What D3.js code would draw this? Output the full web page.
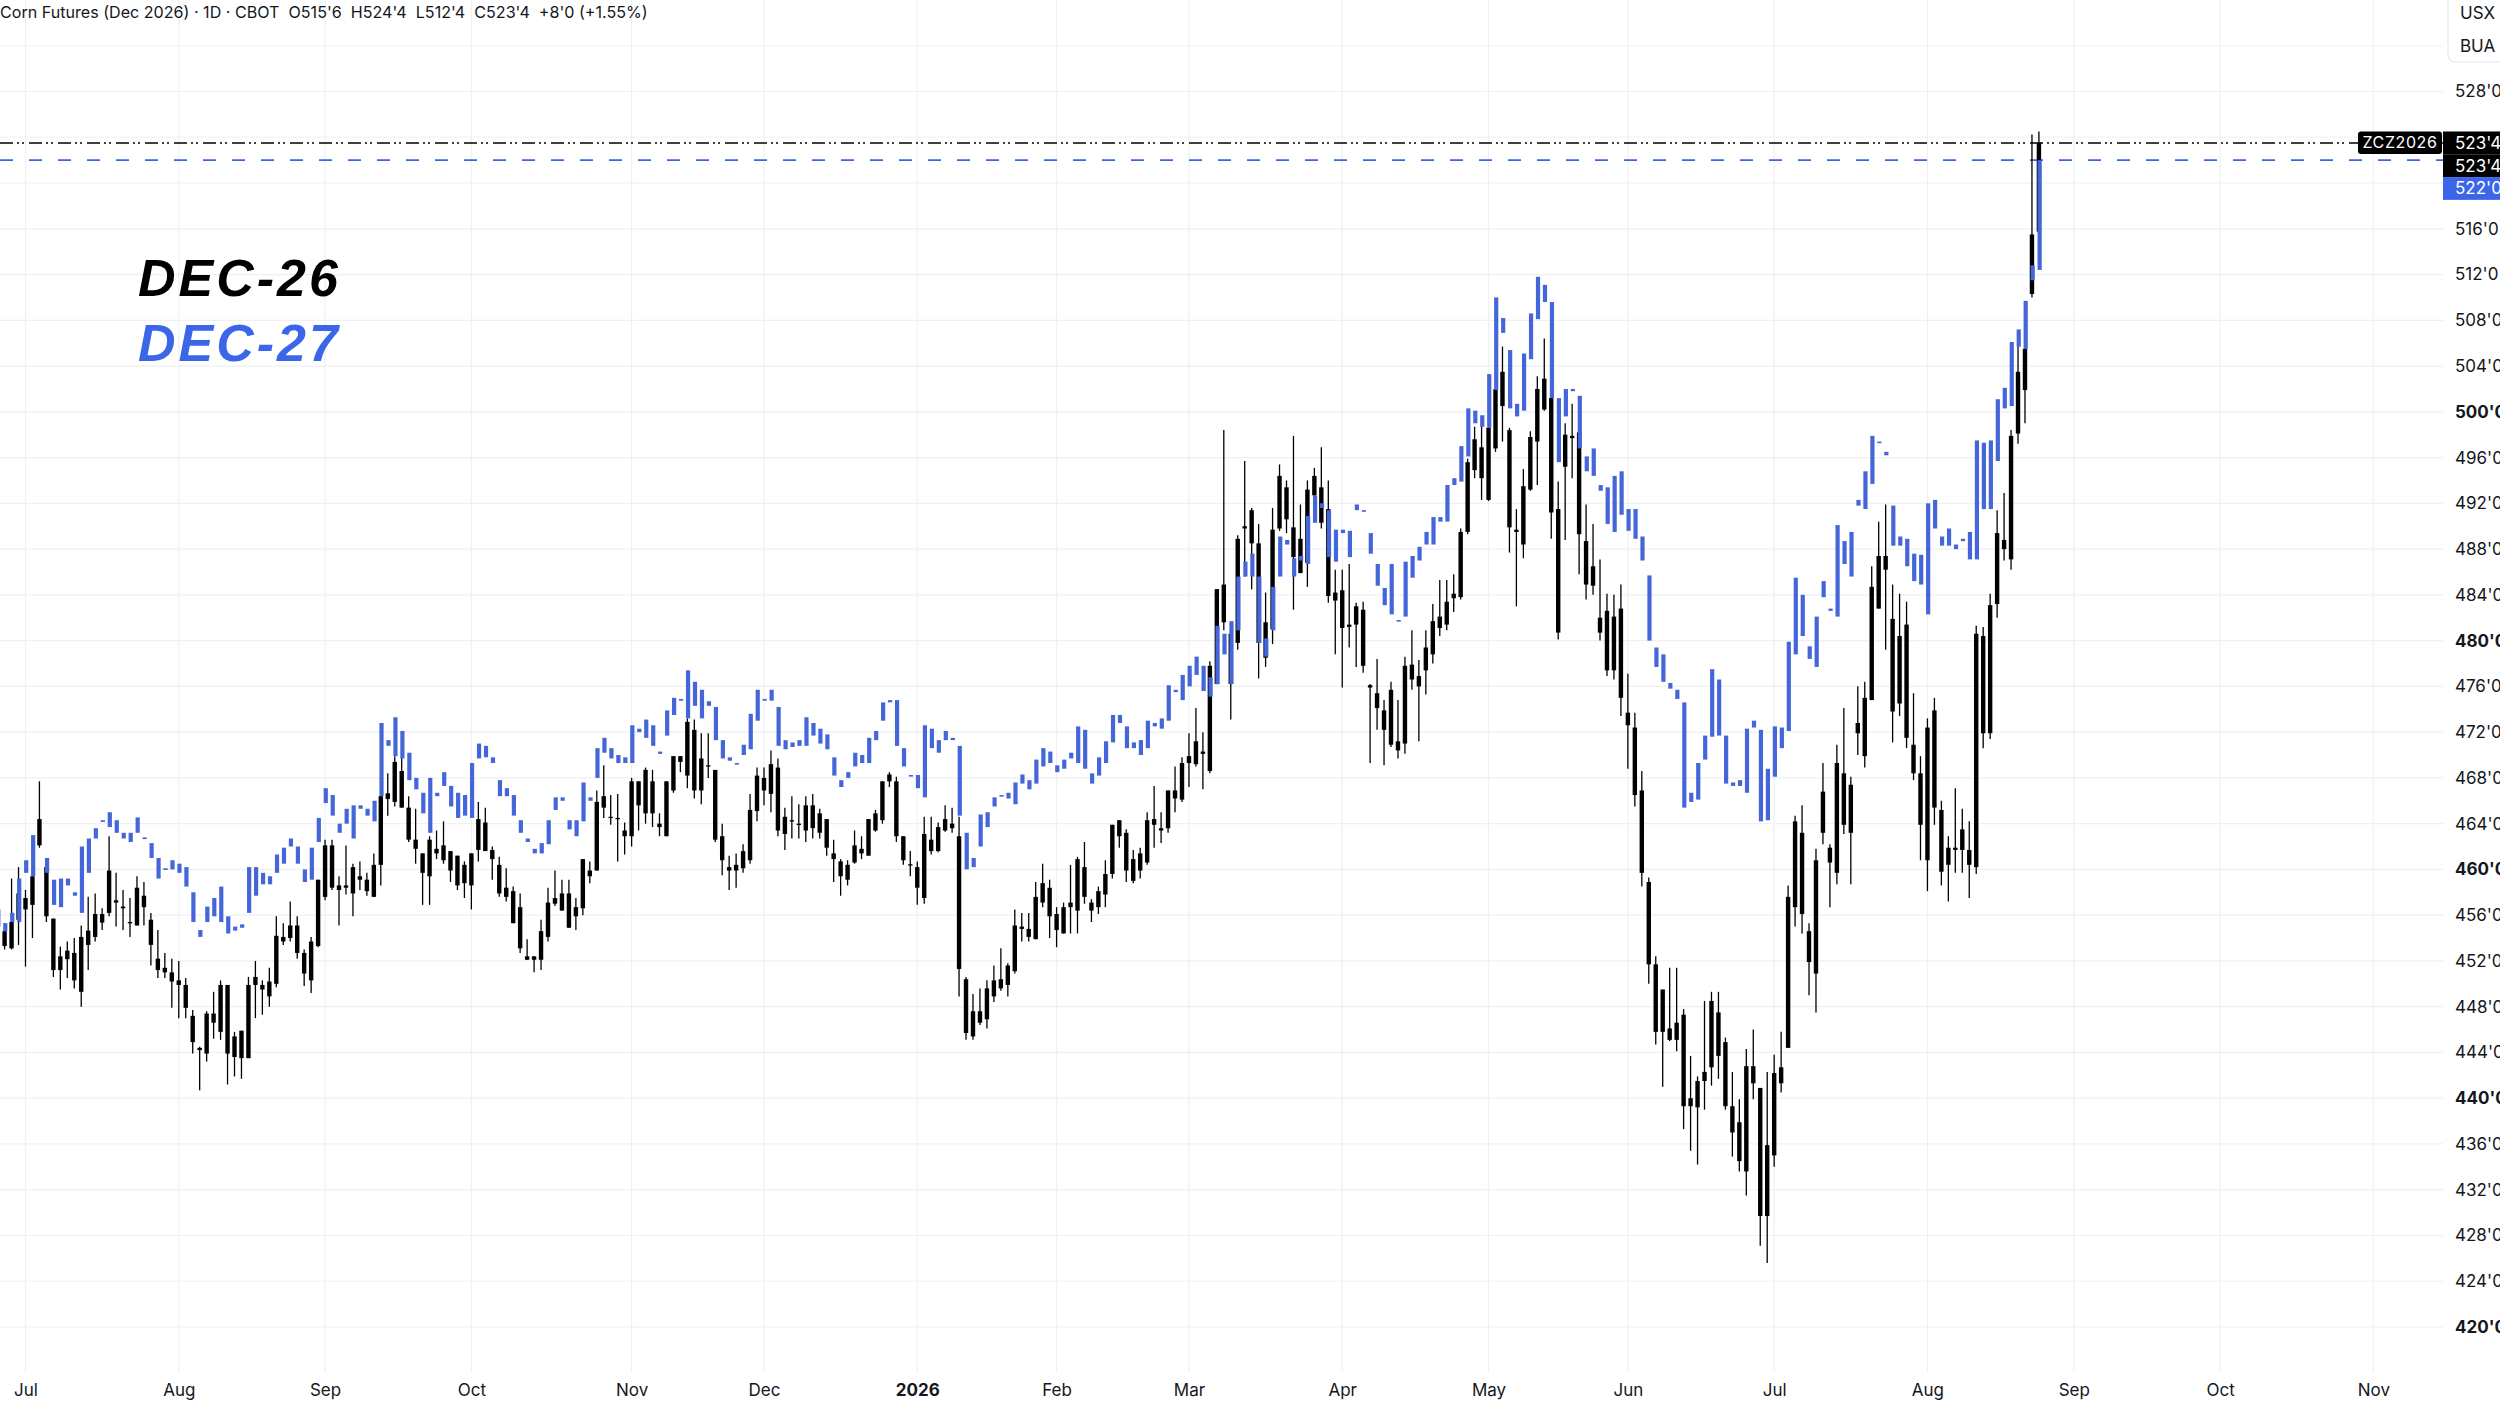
<!DOCTYPE html>
<html><head><meta charset="utf-8">
<script src="https://cdn.jsdelivr.net/npm/d3@7"></script>
<style>html,body{margin:0;padding:0;background:#fff;overflow:hidden}svg{display:block}</style>
</head><body><svg id="chart" width="2500" height="1405"></svg>
<script>
// ---------------- DATA ----------------
const titleText = "Corn Futures (Dec 2026) · 1D · CBOT";
const legendLabels = ["DEC-26", "DEC-27"];
const symbolLabel = "ZCZ2026";
const unitLabels = ["USX", "BUA"];
const firstDay = "2025-06-25";
const lastAxisDay = "2026-11-30";
const holidays = ["2025-07-04","2025-09-01","2025-11-27","2025-12-25","2026-01-01","2026-01-19","2026-02-16","2026-04-03","2026-05-25","2026-06-19","2026-07-03","2026-09-07","2026-11-26"];
const priceTicks = [420,424,428,432,436,440,444,448,452,456,460,464,468,472,476,480,484,488,492,496,500,504,508,512,516,520,524,528,532];

const dec26Open = [457.5,454.6,453.1,455.6,456.5,456.9,462.1,460.2,455.7,452.4,452.15,452.7,449.3,453.4,
454.1,455.35,456.2,457.3,456.75,455.4,455.1,456.7,455.6,452.2,
451.4,451.0,450.3,449.9,447.2,444.4,443.9,446.6,445.8,449.9,
445.4,443.5,443.5,449.9,449.9,450.2,450.0,453.7,454.0,455.1,
452.7,450.3,453.3,457.6,462.1,458.6,458.4,457.9,459.1,459.1,
457.6,460.4,466.15,465.9,468.6,465.4,462.6,461.4,459.4,461.4,
462.1,461.6,461.2,460.4,458.6,461.7,464.1,461.7,460.4,458.4,
458.1,456.7,452.4,452.4,452.1,454.1,457.0,457.9,457.9,455.9,
456.6,459.4,459.9,465.4,464.6,464.5,463.4,462.9,465.6,464.9,
467.7,464.0,462.9,466.9,469.4,468.2,472.2,469.7,469.0,468.7,
462.9,460.2,459.9,460.1,460.8,465.1,468.0,466.6,468.9,464.6,
464.2,464.0,463.4,463.6,464.9,464.4,461.4,460.7,460.4,460.6,
461.4,461.2,463.4,464.3,467.7,467.7,462.9,460.45,460.2,457.5,
461.6,461.6,463.4,464.0,462.9,450.4,447.6,446.6,446.9,448.9,
449.6,449.9,451.1,454.8,454.8,453.9,457.1,458.4,456.1,454.4,
456.7,456.4,457.6,457.1,456.7,457.8,459.6,462.9,463.2,460.9,
459.9,460.6,463.9,463.6,463.6,466.2,466.1,469.3,469.2,470.3,
468.6,476.2,481.6,480.6,479.8,489.8,488.5,488.5,481.6,481.0,
489.8,493.4,489.9,488.9,486.8,492.7,493.4,491.5,484.2,484.4,
481.4,481.4,482.7,476.1,475.4,473.9,470.9,471.2,471.0,476.6,
476.9,477.4,478.8,481.1,481.4,483.7,483.8,489.5,494.9,496.9,
492.3,496.8,500.5,498.4,489.7,488.4,493.2,497.4,500.2,501.2,
491.5,495.2,497.7,498.2,488.7,486.5,482.0,482.6,482.1,482.8,
473.7,472.4,466.9,458.9,451.7,445.8,446.1,445.1,447.3,440.0,
439.2,441.5,442.7,447.5,444.9,439.3,437.9,433.6,441.3,440.9,
435.9,435.0,441.3,444.4,456.7,463.2,454.6,450.9,463.2,461.9,
459.7,468.4,467.4,471.9,469.9,474.8,482.8,486.2,481.9,474.5,
481.4,470.9,468.4,460.8,465.4,465.2,461.9,461.7,461.7,461.7,
460.2,480.4,471.9,483.2,488.0,487.1,498.1,501.9,510.3,515.75];

const dec26High = [458.5,455.3,459.2,460.2,458.2,460.2,467.7,460.2,455.7,453.25,453.7,454.0,455.1,457.6,
457.9,456.6,462.9,459.7,458.2,457.5,459.4,458.9,456.2,454.7,
452.7,452.2,452.0,450.5,447.7,444.5,447.6,449.3,450.3,449.9,
445.8,445.9,450.6,452.0,450.3,451.4,455.9,455.3,457.2,455.9,
453.0,454.1,459.1,462.6,462.6,459.4,462.1,460.5,460.7,459.7,
461.4,468.9,468.4,469.9,469.9,466.4,465.3,461.4,462.9,463.4,
464.2,461.6,461.2,460.7,461.4,465.9,465.4,462.0,461.1,460.1,
458.5,457.9,453.9,452.4,455.6,458.4,459.9,459.1,459.1,457.5,
460.9,460.7,466.9,469.1,466.5,466.6,464.1,468.0,467.7,468.9,
468.7,464.9,467.7,469.9,469.9,473.2,473.1,471.9,471.9,468.7,
464.0,461.2,461.4,462.2,466.6,468.9,468.9,470.4,469.7,465.4,
466.4,465.7,466.4,466.6,465.3,464.4,462.6,460.9,460.8,463.4,
462.9,464.4,465.2,467.7,468.5,468.1,462.9,461.6,460.7,464.6,
464.6,464.1,465.6,465.4,464.6,450.6,449.1,449.6,450.3,451.6,
453.1,451.8,456.5,456.2,456.2,458.9,460.5,459.1,456.7,457.1,
460.4,461.1,462.4,457.4,458.5,460.8,463.9,464.3,463.5,461.7,
461.9,465.0,467.3,465.0,466.9,469.0,469.8,471.9,474.1,472.0,
478.2,484.5,498.4,480.6,489.2,495.7,491.6,490.2,484.2,491.6,
495.4,494.0,497.9,491.9,494.0,495.1,496.9,494.0,486.2,486.2,
486.7,483.3,483.4,476.2,478.4,474.8,476.4,474.8,478.6,480.9,
478.3,480.9,483.2,485.3,485.3,485.8,489.8,495.9,498.7,499.6,
498.7,504.4,505.7,498.6,491.5,495.0,498.3,503.1,506.4,501.2,
493.9,499.0,500.7,498.2,491.9,490.2,487.1,484.1,484.0,484.9,
477.1,473.7,468.6,459.3,452.4,449.5,451.4,451.4,447.8,443.7,
441.9,448.5,449.3,449.3,445.3,442.3,439.9,444.3,446.0,440.9,
442.3,443.8,445.8,458.6,464.7,465.6,455.3,461.8,469.3,462.2,
470.9,474.1,468.1,476.0,476.4,486.5,490.4,491.9,484.9,484.1,
483.4,475.4,469.9,473.2,475.0,466.0,462.9,467.1,465.3,464.2,
481.3,481.2,484.1,491.4,492.9,498.4,506.1,508.5,524.25,524.5];

const dec26Low = [453.2,453.0,453.0,453.4,451.5,454.0,461.9,455.4,450.6,449.5,450.5,449.6,448.0,451.2,
453.7,454.7,455.9,455.0,454.7,454.1,455.1,455.1,451.6,450.5,
450.5,447.9,447.0,447.0,443.9,440.7,443.2,445.2,445.1,441.2,
441.9,441.7,443.5,447.0,447.3,448.0,449.7,453.4,453.7,452.2,
449.8,449.2,453.2,457.3,458.2,455.1,457.8,455.9,458.2,457.7,
457.6,458.6,464.7,465.5,465.4,462.4,460.5,456.9,456.9,460.9,
460.5,458.9,458.2,457.5,456.5,460.7,461.6,459.1,457.6,457.2,
455.3,452.7,452.1,451.0,451.2,453.7,456.8,456.4,454.9,454.7,
456.0,458.8,459.9,464.5,463.9,460.7,461.3,462.0,463.4,464.0,
463.7,462.9,462.9,466.7,468.5,467.1,466.2,465.7,468.0,462.4,
459.5,458.2,458.4,459.7,460.5,464.2,465.6,465.0,462.9,461.7,
462.7,462.7,462.4,462.7,462.7,461.2,458.9,457.7,458.6,460.5,
460.9,461.2,463.3,464.0,467.2,462.4,460.4,459.4,456.9,457.0,
461.3,461.5,463.3,463.2,448.9,445.1,445.1,446.4,446.1,448.4,
449.4,448.9,450.9,453.7,453.7,453.9,456.7,454.0,453.2,454.4,
454.4,454.4,457.0,455.4,456.1,456.7,459.2,461.9,458.9,458.8,
459.2,460.4,461.9,462.3,463.2,465.0,465.9,467.2,469.0,467.0,
468.4,476.2,480.9,473.1,479.2,485.6,484.5,476.7,477.7,479.7,
489.6,489.4,482.7,485.9,484.7,490.5,489.8,483.3,478.8,475.9,
479.4,477.7,477.2,469.3,472.2,469.1,470.7,469.7,470.1,475.7,
471.2,475.3,478.0,480.4,480.9,482.5,483.6,489.3,494.2,492.3,
492.2,496.5,497.4,487.7,483.0,487.2,493.1,493.6,500.1,488.9,
480.1,488.8,494.2,485.8,483.6,484.0,480.0,476.9,476.6,473.4,
468.8,465.5,458.5,450.0,444.7,441.0,445.0,444.1,437.3,435.4,
434.2,439.0,441.1,441.7,439.0,434.9,433.6,431.5,439.9,427.1,
425.6,434.0,440.5,444.4,455.0,454.4,449.0,447.5,462.2,456.7,
458.7,463.1,458.7,470.0,468.9,474.8,482.8,479.2,471.1,473.4,
470.6,467.8,460.8,458.1,463.9,458.6,457.2,459.7,459.7,457.5,
459.6,470.6,471.4,482.0,487.0,486.2,497.2,499.0,510.0,512.5];

const dec26Close = [454.0,453.3,455.4,457.9,457.5,459.4,464.4,455.9,451.2,451.2,452.9,450.3,454.1,454.65,
456.1,456.1,459.9,457.1,456.6,455.3,458.4,457.7,453.4,451.2,
451.0,450.2,449.9,447.9,444.9,444.2,447.4,447.4,449.9,443.9,
443.6,445.9,449.9,450.6,449.5,448.9,454.2,454.1,455.1,452.7,
450.9,453.7,459.1,462.1,458.4,458.2,458.6,460.2,459.4,458.1,
460.4,466.4,466.65,469.4,465.4,462.6,461.8,459.7,462.6,461.8,
460.8,459.9,458.6,458.8,461.4,464.4,461.6,460.9,457.9,457.6,
455.3,453.1,452.1,452.1,454.6,457.1,457.5,456.4,454.9,456.7,
460.9,459.9,465.9,466.4,464.5,464.4,462.9,467.7,467.7,468.7,
464.9,463.7,467.7,469.9,469.9,472.9,466.9,466.9,469.1,462.6,
460.8,459.9,460.4,461.6,465.2,468.2,466.9,469.2,463.4,463.1,
464.3,463.9,465.6,465.6,463.2,461.9,460.9,459.4,459.1,462.1,
461.8,464.4,464.9,467.7,468.3,462.9,460.8,460.4,458.4,463.1,
462.6,463.7,464.4,463.6,451.3,445.7,445.4,447.6,449.6,450.3,
450.4,451.6,455.1,455.0,454.1,457.6,458.8,455.9,454.7,456.7,
457.1,460.9,460.2,456.4,458.1,459.6,463.9,464.3,459.9,459.0,
461.4,464.3,464.4,463.4,466.9,466.9,469.3,469.9,471.2,470.1,
477.8,484.5,484.9,476.2,488.9,490.0,491.4,479.8,478.5,489.7,
494.4,490.6,487.3,485.9,493.2,494.4,490.3,483.9,483.5,481.1,
481.2,483.0,477.8,475.9,474.1,472.2,475.7,470.4,477.8,477.9,
476.0,479.4,481.7,482.1,483.4,484.1,489.5,495.6,497.6,494.2,
498.6,502.0,503.5,489.9,489.5,493.5,497.8,502.0,502.9,491.2,
480.7,498.0,497.9,489.3,484.9,484.8,480.7,477.4,477.4,475.0,
472.6,466.5,459.7,451.7,445.8,449.5,445.1,446.6,439.3,439.3,
441.5,442.3,448.5,443.7,439.3,437.0,434.5,442.8,442.8,429.7,
429.7,442.2,442.7,457.6,464.2,456.1,451.9,460.8,466.8,460.6,
469.3,463.9,463.2,472.8,475.0,484.7,487.4,487.4,473.8,480.4,
471.5,468.4,463.9,472.4,473.9,459.8,460.4,461.9,463.5,460.4,
480.6,471.9,483.1,489.4,488.8,497.9,503.5,505.5,515.5,523.5];

const dec27Open = [456.5,455.3,455.4,455.4,459.7,459.4,null,461.0,459.1,459.2,458.6,458.0,456.2,459.7,
462.7,464.15,463.7,464.3,463.2,463.2,463.2,462.8,462.3,461.0,
460.1,460.0,460.5,460.2,458.0,454.7,455.4,455.9,455.4,455.9,
455.0,454.9,456.2,457.7,458.7,459.4,459.7,460.5,462.0,462.0,
460.0,459.1,462.4,465.8,466.5,464.0,464.0,465.6,465.3,465.3,
464.2,466.4,470.8,469.9,472.1,470.2,468.0,466.7,463.2,466.4,
467.3,467.3,466.7,464.7,464.5,469.7,470.8,469.8,467.8,467.1,
466.5,464.3,462.7,461.8,461.4,462.2,465.2,466.0,464.3,464.3,
464.2,466.0,468.0,470.2,470.6,470.0,469.8,469.3,472.0,471.5,
472.6,470.3,471.7,473.5,474.75,473.2,476.4,475.7,474.3,474.2,
471.3,469.8,469.3,470.0,470.5,473.0,474.75,474.75,474.2,471.3,
470.7,470.8,470.8,471.7,472.3,471.8,469.8,467.8,468.0,469.0,
469.3,469.3,471.3,473.0,474.6,474.8,470.6,468.25,468.25,466.3,
470.6,471.3,471.3,471.5,470.8,463.2,461.0,462.0,463.7,465.5,
466.4,466.7,465.7,467.5,467.8,467.5,469.0,469.3,469.1,468.8,
469.7,469.3,472.2,468.4,468.2,469.3,471.1,472.8,472.5,471.1,
471.3,470.6,472.5,472.3,473.0,475.5,474.8,476.0,477.0,477.8,
476.8,476.2,478.8,481.7,480.9,485.6,485.6,485.6,480.2,480.9,
485.6,488.4,487.2,487.0,486.7,490.3,491.6,491.4,489.7,489.4,
489.6,491.4,491.4,489.4,486.7,484.6,482.3,481.8,482.1,485.5,
487.0,488.4,488.4,490.4,490.4,493.6,493.9,496.1,499.0,499.7,
498.6,501.9,506.9,505.4,500.7,500.1,504.6,508.1,509.6,509.6,
501.2,499.6,501.8,501.4,496.1,494.4,493.6,493.4,489.5,491.0,
491.5,491.5,489.1,485.7,479.4,478.8,476.3,475.7,474.6,466.7,
466.1,469.6,471.6,476.6,471.7,467.6,467.3,466.7,472.4,472.2,
468.8,468.1,470.6,472.1,478.8,484.0,479.5,477.7,483.8,482.8,
482.1,486.7,489.5,491.8,491.5,493.7,497.3,496.5,491.8,489.1,
488.9,487.6,487.5,482.3,489.8,489.1,488.3,488.4,488.7,489.5,
487.1,491.5,491.5,495.7,500.3,500.5,505.7,505.5,511.5,512.4];

const dec27Close = [455.0,454.6,456.2,459.2,460.8,463.0,null,459.7,456.9,456.7,459.2,457.7,462.0,462.7,
463.6,464.3,465.0,463.2,462.7,462.4,464.55,462.65,461.0,459.2,
459.95,460.8,459.7,458.5,455.4,454.1,456.75,457.5,458.5,454.4,
454.65,455.2,460.2,460.2,459.7,458.7,461.3,461.9,462.7,460.5,
458.9,461.9,464.5,467.1,464.7,463.2,465.3,462.7,465.6,464.7,
466.0,472.8,471.3,473.3,469.7,467.8,467.0,464.9,468.0,466.7,
468.5,465.5,464.5,466.5,469.3,471.0,469.8,469.3,466.4,466.4,
464.7,463.2,462.4,461.4,462.3,464.3,466.3,466.3,463.5,462.9,
467.6,466.3,470.6,471.5,469.7,469.3,469.3,472.6,472.3,473.1,
470.8,470.1,473.9,475.0,474.9,477.4,474.3,473.2,474.7,471.3,
469.7,469.5,469.2,470.9,473.6,475.7,474.9,475.7,470.8,470.5,
471.1,471.3,473.3,472.8,471.0,470.5,468.2,467.2,468.5,470.2,
470.0,471.5,472.1,474.6,474.8,470.8,469.0,468.15,467.1,472.6,
472.3,470.2,472.1,471.3,464.7,460.0,460.2,464.8,465.0,466.3,
466.5,466.2,467.6,468.3,467.0,469.6,470.6,470.3,468.5,469.6,
470.2,472.5,468.8,467.5,469.8,471.2,473.5,473.5,470.6,470.6,
470.0,473.0,472.8,473.2,476.1,475.7,477.0,477.8,478.6,475.6,
475.1,481.3,480.6,476.2,485.6,486.9,487.6,479.8,478.6,484.7,
489.1,488.8,485.6,487.4,490.9,492.7,492.0,487.3,486.9,489.7,
487.3,491.9,491.3,487.6,484.8,483.1,486.7,481.7,486.9,487.4,
488.2,489.5,490.8,490.8,493.6,494.2,497.0,500.3,500.1,498.7,
503.3,510.0,508.2,500.3,499.6,505.1,508.6,511.8,511.1,501.2,
495.6,502.0,502.0,496.8,494.8,496.8,493.1,490.2,494.4,494.8,
489.6,488.9,487.0,480.0,477.7,476.4,475.8,474.9,465.4,465.9,
469.3,471.7,477.5,471.7,467.5,467.3,467.8,472.3,473.0,464.2,
464.3,472.5,472.4,479.9,485.5,480.4,478.4,482.1,485.2,482.6,
490.1,488.7,485.6,492.3,494.8,497.9,497.4,496.2,488.3,488.3,
486.5,485.2,484.9,492.0,492.3,488.3,489.8,488.0,488.9,487.1,
497.5,497.3,497.5,501.1,502.1,506.1,507.2,509.7,512.8,522.0];

// ---------------- LAYOUT ----------------
const W = 2500, H = 1405;
const plotRight = 2443, plotBottom = 1372;
const blackC = "#000000", blueBar = "#4466d9", blueText = "#3b66e8";
const textC = "#131722", gridC = "#eef0f3";
const fontUI = "Inter, Roboto, 'Noto Sans', 'Liberation Sans', sans-serif";

const svg = d3.select("#chart");

// trading days
const hset = new Set(holidays);
const days = [];
{
  let d = new Date(firstDay + "T00:00:00Z");
  const end = new Date(lastAxisDay + "T00:00:00Z");
  while (d <= end) {
    const wd = d.getUTCDay();
    const s = d.toISOString().slice(0, 10);
    if (wd !== 0 && wd !== 6 && !hset.has(s)) days.push(new Date(d));
    d = new Date(d.getTime() + 864e5);
  }
}
const n = dec26Open.length;

const x = d3.scaleLinear().domain([0.34, 351.0]).range([0, plotRight]);
const y = d3.scaleLinear().domain([420, 528]).range([1327, 91.5]);

const monthIdx = [];
for (let k = 1; k < days.length; k++) {
  if (days[k].getUTCMonth() !== days[k - 1].getUTCMonth() && x(k) < plotRight - 20) monthIdx.push(k);
}
const fmtPrice = v => {
  const whole = Math.floor(v + 1e-9);
  const eighth = Math.round((v - whole) * 8);
  return whole + "'" + eighth;
};

// grid
const grid = svg.append("g");
grid.selectAll("line.h").data(priceTicks).join("line")
  .attr("x1", 0).attr("x2", plotRight).attr("y1", d => y(d)).attr("y2", d => y(d))
  .attr("stroke", gridC).attr("stroke-width", 1.2);
grid.selectAll("line.v").data(monthIdx).join("line")
  .attr("x1", d => x(d)).attr("x2", d => x(d)).attr("y1", 0).attr("y2", plotBottom)
  .attr("stroke", gridC).attr("stroke-width", 1.2);

// last price lines
const lastBlack = dec26Close[n - 1];
const lastBlue = dec27Close[n - 1];
svg.append("line").attr("x1", 0).attr("x2", plotRight).attr("y1", y(lastBlack)).attr("y2", y(lastBlack))
  .attr("stroke", "#000").attr("stroke-width", 1.6).attr("stroke-dasharray", "13 4 2 3 2 5");
svg.append("line").attr("x1", 0).attr("x2", plotRight).attr("y1", y(lastBlue)).attr("y2", y(lastBlue))
  .attr("stroke", blueText).attr("stroke-width", 1.8).attr("stroke-dasharray", "13 16");

// DEC-26 candles
const idx = d3.range(n);
const cw = 4.4;
const g26 = svg.append("g");
g26.selectAll("line").data(idx).join("line")
  .attr("x1", i => x(i)).attr("x2", i => x(i))
  .attr("y1", i => y(dec26High[i])).attr("y2", i => y(dec26Low[i]))
  .attr("stroke", blackC).attr("stroke-width", 1.3);
g26.selectAll("rect").data(idx).join("rect")
  .attr("x", i => x(i) - cw / 2).attr("width", cw)
  .attr("y", i => y(Math.max(dec26Open[i], dec26Close[i])))
  .attr("height", i => Math.max(1.3, Math.abs(y(dec26Open[i]) - y(dec26Close[i]))))
  .attr("fill", blackC);

// DEC-27 bodies
const idx27 = idx.filter(i => dec27Open[i] != null);
svg.append("g").selectAll("rect").data(idx27).join("rect")
  .attr("x", i => x(i) - cw / 2 + 0.8).attr("width", cw - 0.2)
  .attr("y", i => y(Math.max(dec27Open[i], dec27Close[i])))
  .attr("height", i => Math.max(1.6, Math.abs(y(dec27Open[i]) - y(dec27Close[i]))))
  .attr("fill", blueBar);

// price axis
const hideTop = y(lastBlack) - 18, hideBot = y(lastBlue) + 30;
const pAxis = d3.axisRight(y)
  .tickValues(priceTicks.filter(v => v <= 528 && !(y(v) > hideTop && y(v) < hideBot)))
  .tickFormat(fmtPrice).tickSize(0).tickPadding(12);
const pa = svg.append("g").attr("transform", `translate(${plotRight},0)`).call(pAxis);
pa.select(".domain").remove();
pa.selectAll("text").attr("fill", textC).style("font-family", fontUI).style("font-size", "17px")
  .style("font-weight", d => d % 20 === 0 ? 700 : 400);

// time axis
const tAxis = d3.axisBottom(x).tickValues(monthIdx)
  .tickFormat(k => days[k].getUTCMonth() === 0 ? String(days[k].getUTCFullYear()) : d3.utcFormat("%b")(days[k]))
  .tickSize(0).tickPadding(12);
const ta = svg.append("g").attr("transform", `translate(0,${plotBottom})`).call(tAxis);
ta.select(".domain").remove();
ta.selectAll("text").attr("fill", textC).style("font-family", fontUI).style("font-size", "17px")
  .style("font-weight", k => days[k].getUTCMonth() === 0 ? 700 : 400);

// unit box
const ub = svg.append("g");
ub.append("rect").attr("x", 2448).attr("y", -8).attr("width", 70).attr("height", 70).attr("rx", 7)
  .attr("fill", "#fff").attr("stroke", "#e6e8ee").attr("stroke-width", 1.2);
ub.selectAll("text").data(unitLabels).join("text")
  .attr("x", 2460).attr("y", (d, i) => 19 + i * 33).text(d => d)
  .attr("fill", textC).style("font-family", fontUI).style("font-size", "17px");

// symbol label + price labels
const ly0 = y(lastBlack) - 11.5;
svg.append("rect").attr("x", 2358).attr("y", ly0).attr("width", 84).attr("height", 22.5).attr("rx", 3).attr("fill", "#000");
svg.append("text").attr("x", 2400).attr("y", ly0 + 11.25).attr("dy", "0.35em").attr("text-anchor", "middle")
  .text(symbolLabel).attr("fill", "#fff").style("font-family", fontUI).style("font-size", "16px").style("letter-spacing", "0.6px");
const priceBoxes = [
  {v: lastBlack, fill: "#000"},
  {v: lastBlack, fill: "#000"},
  {v: lastBlue, fill: blueText}
];
const pb = svg.append("g");
pb.selectAll("rect").data(priceBoxes).join("rect")
  .attr("x", plotRight).attr("y", (d, i) => ly0 + i * 22.8).attr("width", 60).attr("height", 22.8)
  .attr("fill", d => d.fill);
pb.selectAll("text").data(priceBoxes).join("text")
  .attr("x", 2455).attr("y", (d, i) => ly0 + i * 22.8 + 11.4).attr("dy", "0.35em")
  .text(d => fmtPrice(d.v)).attr("fill", "#fff").style("font-family", fontUI).style("font-size", "17px");

// header
const lo = dec26Open[n - 1], hi = dec26High[n - 1], lw = dec26Low[n - 1], cl = dec26Close[n - 1];
const chg = cl - dec26Close[n - 2];
const headerStr = `${titleText}  O${fmtPrice(lo)}  H${fmtPrice(hi)}  L${fmtPrice(lw)}  C${fmtPrice(cl)}  ${chg >= 0 ? "+" : "-"}${fmtPrice(Math.abs(chg))} (${chg >= 0 ? "+" : ""}${(chg / dec26Close[n - 2] * 100).toFixed(2)}%)`;
const header = svg.append("text").attr("x", 0).attr("y", 18).text(headerStr)
  .attr("fill", textC).style("font-family", fontUI).style("font-size", "18px").attr("xml:space", "preserve").style("white-space", "pre");
const hl = header.node().getComputedTextLength();
if (hl > 0) header.style("font-size", (18 * 648 / hl).toFixed(2) + "px");

// legend
const leg = svg.append("g");
leg.selectAll("text").data(legendLabels).join("text")
  .attr("x", 138).attr("y", (d, i) => 296 + i * 65).text(d => d)
  .attr("fill", (d, i) => i === 0 ? "#000" : blueText)
  .style("font-family", "'Liberation Sans', Arial, sans-serif").style("font-weight", 700)
  .style("font-style", "italic").style("font-size", "52px").style("letter-spacing", "3px");
</script></body></html>
